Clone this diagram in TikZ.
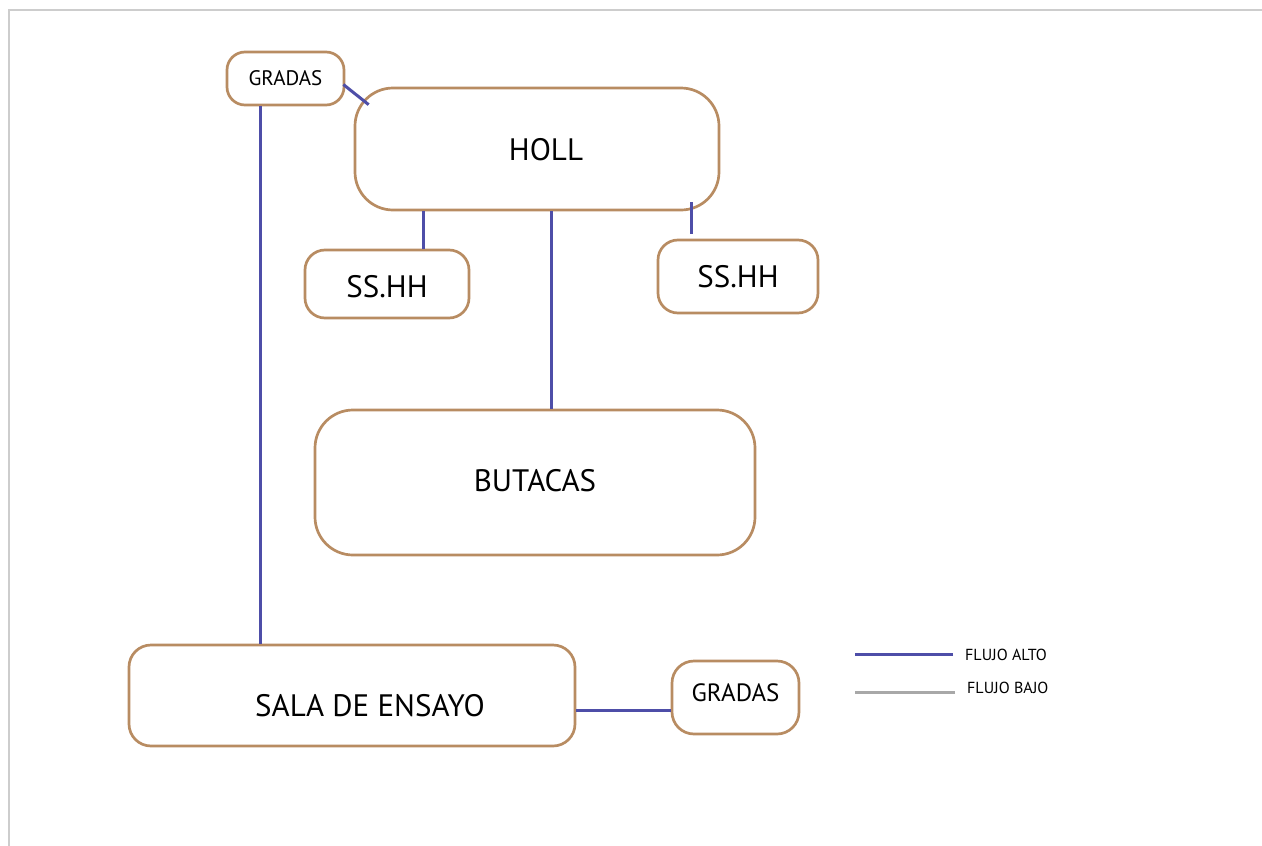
\documentclass[tikz,border=0pt]{standalone}
\usepackage{fontspec}
\setmainfont{PT Sans}
\definecolor{roombrown}{RGB}{184,140,98}
\definecolor{flowblue}{RGB}{78,78,168}
\definecolor{flowgray}{RGB}{168,168,168}
\definecolor{pagegray}{RGB}{205,205,205}
\usetikzlibrary{positioning}

\begin{document}
\begin{tikzpicture}[x=1pt,y=-1pt,
		room/.style={draw=roombrown, line width=2.7pt, rounded corners=#1, inner sep=0pt},
		room/.default=25pt,
		big/.style={font=\fontsize{31}{36}\selectfont},
		alto/.style={flowblue, line width=3pt},
		bajo/.style={flowgray, line width=3pt},
		legend/.style={font=\fontsize{16}{18}\selectfont, inner sep=0pt}]
	\useasboundingbox (0,0) rectangle (1262,846);
	\draw[pagegray, line width=2pt] (9,846) -- (9,10) -- (1262,10);
	% rooms
	\node[room=18pt, minimum width=117pt, minimum height=53pt, font=\fontsize{21}{24}\selectfont] (gradasA) at (285.5,78.5) {GRADAS};
	\node[room=38pt, minimum width=364pt, minimum height=122pt,
		label={[big, xshift=9pt, yshift=-1pt]center:HOLL}] (holl) at (537,149) {};
	\node[room=20pt, minimum width=164pt, minimum height=68pt,
		label={[big, yshift=-3pt]center:SS.HH}] (ssA) at (387,284) {};
	\node[room=20pt, minimum width=160pt, minimum height=73pt, big] (ssB) at (738,276.5) {SS.HH};
	\node[room=38pt, minimum width=440pt, minimum height=145pt,
		label={[big, yshift=2pt]center:BUTACAS}] (butacas) at (535,482.5) {};
	\node[room=22pt, minimum width=446pt, minimum height=101pt,
		label={[big, xshift=18pt, yshift=-10pt]center:SALA DE ENSAYO}] (sala) at (352,695.5) {};
	\node[room=22pt, minimum width=127pt, minimum height=73pt,
		label={[font=\fontsize{25}{28}\selectfont, yshift=5pt]center:GRADAS}] (gradasB) at (735.5,697.5) {};
	% flujos
	\draw[alto] ([shift={(-2,6)}]gradasA.east) -- ([shift={(15,18)}]holl.north west);
	\draw[alto] ([xshift=-25]gradasA.south) -- ([xshift=-25]gradasA.south |- sala.north);
	\draw[alto] ([xshift=36]ssA.north) -- ([xshift=36]ssA.north |- holl.south);
	\draw[alto] ([xshift=16]butacas.north) -- ([xshift=16]butacas.north |- holl.south);
	\draw[alto] ([xshift=-47,yshift=5]ssB.north) -- ++(0,-32);
	\draw[alto] ([yshift=-14.5]sala.east) -- ([yshift=-14.5]sala.east -| gradasB.west);
	% leyenda
	\node[legend, anchor=west] (altoTxt) at (965,655) {FLUJO ALTO};
	\node[legend, anchor=west] (bajoTxt) at (967,688) {FLUJO BAJO};
	\draw[alto] ([xshift=-12,yshift=1]altoTxt.west) -- ++(-98,0);
	\draw[bajo] ([xshift=-12,yshift=-4]bajoTxt.west) -- ++(-100,0);
\end{tikzpicture}
\end{document}
